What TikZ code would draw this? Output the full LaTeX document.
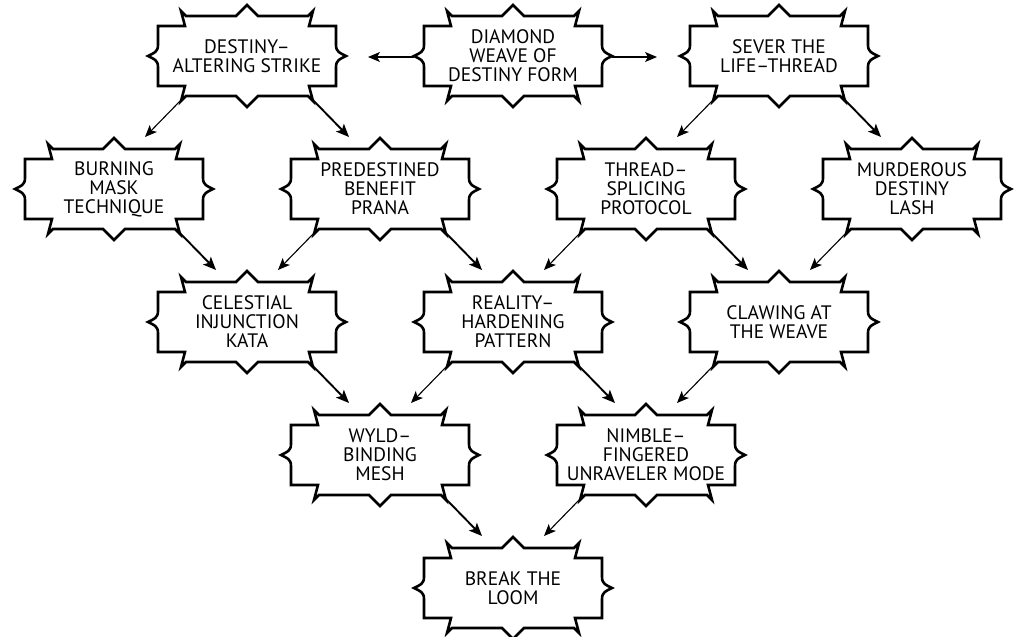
\documentclass[tikz,border=0pt]{standalone}
\usepackage{fontspec}
\setmainfont{PT Sans}
\usetikzlibrary{arrows.meta}
\tikzset{
  box/.style={rectangle, minimum width=178pt, minimum height=80pt, inner sep=0pt,
    align=center, font=\fontsize{19.5}{19}\selectfont},
  frame/.style={draw=black, line width=2.6pt, line join=miter, fill=white},
  heavy/.style={draw=black, line width=1.9pt, -{Stealth[length=13pt,width=11pt,inset=3pt]}},
  light/.style={draw=black, line width=1.1pt, -{Stealth[length=12pt,width=10pt,inset=3pt]}},
}
\newcommand\drawframe[1]{%
  \begin{scope}[shift={(#1.center)}]
  \draw[frame] (-89,-30) -- (-62,-30) -- (-66,-45) -- (-61,-40) -- (-11,-40) -- (0,-51) -- (11,-40)
    -- (61,-40) -- (66,-45) -- (62,-30) -- (89,-30)
    -- (89,-11) .. controls (89,-4) and (93,-3) .. (99,0) .. controls (93,3) and (89,4) .. (89,11)
    -- (89,30) -- (62,30) -- (66,45) -- (61,40) -- (11,40) -- (0,51) -- (-11,40)
    -- (-61,40) -- (-66,45) -- (-62,30) -- (-89,30)
    -- (-89,11) .. controls (-89,4) and (-93,3) .. (-99,0) .. controls (-93,-3) and (-89,-4) .. (-89,-11)
    -- cycle;
  \end{scope}}
\begin{document}
\begin{tikzpicture}[x=1pt,y=-1pt]
\fill[white] (0,0) rectangle (1018,637);
\useasboundingbox (0,0) rectangle (1018,637);
% nodes
\node[box] (A) at (247,56) {};
\node[box] (B) at (513,56) {};
\node[box] (C) at (779,56) {};
\node[box] (burn) at (114,189) {};
\node[box] (pred) at (380,189) {};
\node[box] (thread) at (646,189) {};
\node[box] (murd) at (912,189) {};
\node[box] (cel) at (247,322) {};
\node[box] (real) at (513,322) {};
\node[box] (claw) at (779,322) {};
\node[box] (wyld) at (380,455) {};
\node[box] (nimb) at (646,455) {};
\node[box] (brk) at (513,588) {};
\foreach \n in {A,B,C,burn,pred,thread,murd,cel,real,claw,wyld,nimb,brk}{\drawframe{\n}}
\node[box] at (A) {DESTINY–\\ALTERING STRIKE};
\node[box] at (B) {DIAMOND\\WEAVE OF\\DESTINY FORM};
\node[box] at (C) {SEVER THE\\LIFE–THREAD};
\node[box] at (burn) {BURNING\\MASK\\TECHNIQUE};
\node[box] at (pred) {PREDESTINED\\BENEFIT\\PRANA};
\node[box] at (thread) {THREAD–\\SPLICING\\PROTOCOL};
\node[box] at (murd) {MURDEROUS\\DESTINY\\LASH};
\node[box] at (cel) {CELESTIAL\\INJUNCTION\\KATA};
\node[box] at (real) {REALITY–\\HARDENING\\PATTERN};
\node[box] at (claw) {CLAWING AT\\THE WEAVE};
\node[box] at (wyld) {WYLD–\\BINDING\\MESH};
\node[box] at (nimb) {NIMBLE–\\FINGERED\\UNRAVELER MODE};
\node[box] at (brk) {BREAK THE\\LOOM};
% horizontal arrows
\draw[light] ([shift={(-99,1)}]B.center) -- ([shift={(121,1)}]A.center);
\draw[light] ([shift={(99,1)}]B.center) -- ([shift={(-122,1)}]C.center);
% diagonal arrows
\draw[light] ([shift={(-63,41)}]A.center) -- ([shift={(31,-52)}]burn.center);
\draw[heavy] ([shift={(63,41)}]A.center) -- ([shift={(-31,-52)}]pred.center);
\draw[light] ([shift={(-63,41)}]C.center) -- ([shift={(31,-52)}]thread.center);
\draw[heavy] ([shift={(63,41)}]C.center) -- ([shift={(-31,-52)}]murd.center);
\draw[heavy] ([shift={(63,41)}]burn.center) -- ([shift={(-31,-52)}]cel.center);
\draw[light] ([shift={(-63,41)}]pred.center) -- ([shift={(31,-52)}]cel.center);
\draw[heavy] ([shift={(63,41)}]pred.center) -- ([shift={(-31,-52)}]real.center);
\draw[light] ([shift={(-63,41)}]thread.center) -- ([shift={(31,-52)}]real.center);
\draw[heavy] ([shift={(63,41)}]thread.center) -- ([shift={(-31,-52)}]claw.center);
\draw[light] ([shift={(-63,41)}]murd.center) -- ([shift={(31,-52)}]claw.center);
\draw[heavy] ([shift={(63,41)}]cel.center) -- ([shift={(-31,-52)}]wyld.center);
\draw[light] ([shift={(-63,41)}]real.center) -- ([shift={(31,-52)}]wyld.center);
\draw[heavy] ([shift={(63,41)}]real.center) -- ([shift={(-31,-52)}]nimb.center);
\draw[light] ([shift={(-63,41)}]claw.center) -- ([shift={(31,-52)}]nimb.center);
\draw[heavy] ([shift={(63,41)}]wyld.center) -- ([shift={(-31,-52)}]brk.center);
\draw[light] ([shift={(-63,41)}]nimb.center) -- ([shift={(31,-52)}]brk.center);
\end{tikzpicture}
\end{document}
